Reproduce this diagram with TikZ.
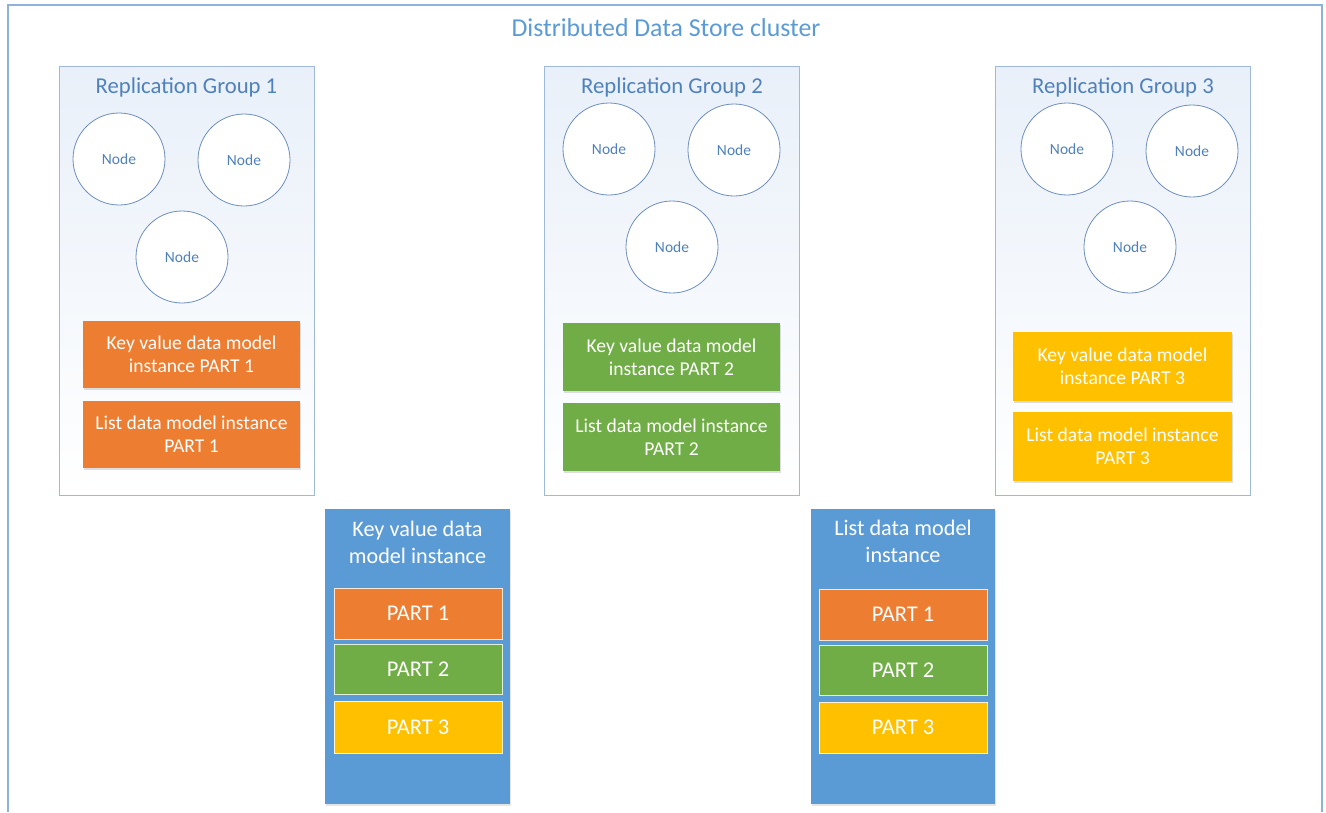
\documentclass[tikz,border=0pt]{standalone}
\usepackage{fontspec}
\setmainfont{Carlito}
\usetikzlibrary{shadows}

\definecolor{frameblue}{HTML}{8DB3DC}
\definecolor{grpline}{HTML}{9FB9DA}
\definecolor{grptop}{HTML}{E9F0F9}
\definecolor{titleblue}{HTML}{5B9BD5}
\definecolor{grptxt}{HTML}{4F81BD}
\definecolor{circline}{HTML}{6C8EBF}
\definecolor{partorange}{HTML}{ED7D31}
\definecolor{partgreen}{HTML}{70AD47}
\definecolor{partyellow}{HTML}{FFC000}
\definecolor{modelblue}{HTML}{5B9BD5}

\tikzset{
  grp/.style={draw=grpline, line width=1pt, top color=grptop, bottom color=white,
              minimum width=255pt, minimum height=429pt, inner sep=0pt},
  grptitle/.style={anchor=base, text=grptxt, font=\fontsize{22.7}{27}\selectfont},
  member/.style={circle, draw=circline, line width=0.8pt, fill=white,
                 minimum size=92pt, inner sep=0pt, text=grptxt,
                 font=\fontsize{15.5}{18}\selectfont},
  part/.style={fill=#1, text=white, minimum width=217pt, minimum height=67pt,
               inner sep=0pt, align=center,
               font=\fontsize{19.6}{22.7}\selectfont,
               drop shadow={opacity=0.25, shadow xshift=1pt, shadow yshift=-2pt}},
  model/.style={fill=modelblue, minimum width=185pt, minimum height=295pt, inner sep=0pt,
                drop shadow={opacity=0.2, shadow xshift=1pt, shadow yshift=-2pt}},
  modeltitle/.style={text=white, align=center, font=\fontsize{22.2}{27}\selectfont},
  piece/.style={fill=#1, draw=white!80!#1, line width=0.6pt, text=white,
                minimum width=168pt, minimum height=51pt, inner sep=0pt,
                font=\fontsize{22.5}{25}\selectfont}
}

\begin{document}
\begin{tikzpicture}[x=1pt, y=-1pt]
\useasboundingbox (0,0) rectangle (1326,812);
\fill[white] (0,0) rectangle (1326,812);

% cluster frame, open at the bottom
\draw[frameblue, line width=1.5pt] (8,812) -- (8,5) -- (1322,5) -- (1322,812);
\node[anchor=base, text=titleblue, font=\fontsize{25.8}{30}\selectfont] (cltitle) at (666,36)
  {Distributed Data Store cluster};

% replication group 1
\node[grp] (g1) at (186.5,280.5) {};
\node[grptitle] (g1t) at (186.5,93.5) {Replication Group 1};
\node[member] (g1a) at (119,159) {Node};
\node[member] (g1b) at (244,160) {Node};
\node[member] (g1c) at (182,257) {Node};
\node[part=partorange] (g1kv) at (191.5,354.5) {Key value data model\\instance PART 1};
\node[part=partorange] (g1ls) at (191.5,434.5) {List data model instance\\PART 1};

% replication group 2
\node[grp] (g2) at (671.5,280.5) {};
\node[grptitle] (g2t) at (672,93.5) {Replication Group 2};
\node[member] (g2a) at (609,149) {Node};
\node[member] (g2b) at (734,150) {Node};
\node[member] (g2c) at (672,247) {Node};
\node[part=partgreen, minimum height=68pt] (g2kv) at (671.5,357) {Key value data model\\instance PART 2};
\node[part=partgreen, minimum height=68pt] (g2ls) at (671.5,437) {List data model instance\\PART 2};

% replication group 3
\node[grp] (g3) at (1122.5,280.5) {};
\node[grptitle] (g3t) at (1123,93.5) {Replication Group 3};
\node[member] (g3a) at (1067,149) {Node};
\node[member] (g3b) at (1192,151) {Node};
\node[member] (g3c) at (1130,247) {Node};
\node[part=partyellow, minimum width=219pt, minimum height=69pt] (g3kv) at (1122.5,366.5) {Key value data model\\instance PART 3};
\node[part=partyellow, minimum width=219pt, minimum height=69pt] (g3ls) at (1122.5,446.5) {List data model instance\\PART 3};

% key value data model instance
\node[model] (kvm) at (417.5,656.5) {};
\node[modeltitle] (kvmt) at (417.5,542) {Key value data\\model instance};
\node[piece=partorange] (kvp1) at (418,613.5) {PART 1};
\node[piece=partgreen, minimum height=50pt] (kvp2) at (418,669) {PART 2};
\node[piece=partyellow, minimum height=52pt] (kvp3) at (418,727) {PART 3};

% list data model instance
\node[model, minimum width=184pt] (lsm) at (903,656.5) {};
\node[modeltitle] (lsmt) at (903,541) {List data model\\instance};
\node[piece=partorange] (lsp1) at (903,614.5) {PART 1};
\node[piece=partgreen, minimum height=50pt] (lsp2) at (903,670) {PART 2};
\node[piece=partyellow] (lsp3) at (903,727.5) {PART 3};
\end{tikzpicture}
\end{document}
